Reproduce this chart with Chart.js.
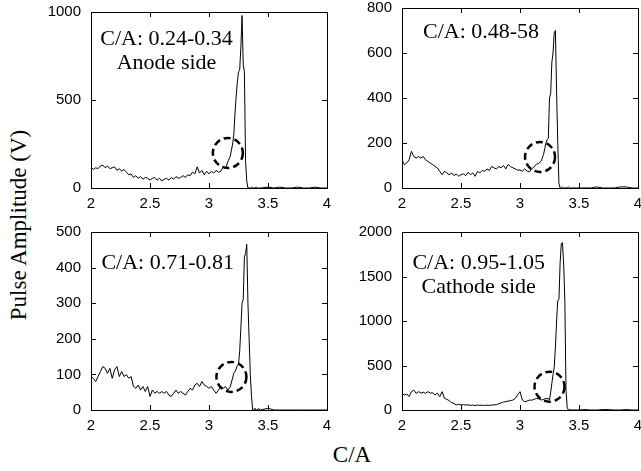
<!DOCTYPE html>
<html>
<head>
<meta charset="utf-8">
<script src="https://cdn.jsdelivr.net/npm/chart.js@4.4.0/dist/chart.umd.min.js"></script>
<style>
  body { margin: 0; width: 641px; height: 471px; overflow: hidden; background: #fff; position: relative; }
  canvas { position: absolute; }
  .title { position: absolute; font-family: 'Liberation Serif', serif; font-size: 23px; line-height: 24px; text-align: center; color: #000; white-space: nowrap; }
  #ytitle { width: 260px; left: -111px; top: 213px; transform: rotate(-90deg); }
  #xtitle { width: 100px; left: 302px; top: 443px; }
</style>
</head>
<body>
<canvas id="tl" width="299" height="211" style="left:36px;top:2px"></canvas>
<canvas id="tr" width="301" height="215" style="left:347px;top:-2px"></canvas>
<canvas id="bl" width="299" height="213" style="left:36px;top:222px"></canvas>
<canvas id="br" width="301" height="213" style="left:347px;top:222px"></canvas>
<div class="title" id="ytitle">Pulse Amplitude (V)</div>
<div class="title" id="xtitle">C/A</div>
<script>
// C/A positions (shared by all four panels)
const xs = [
  2.00, 2.02, 2.04, 2.06, 2.08, 2.10, 2.12, 2.14, 2.16, 2.18,
  2.20, 2.22, 2.24, 2.26, 2.28, 2.30, 2.32, 2.34, 2.36, 2.38,
  2.40, 2.42, 2.44, 2.46, 2.48, 2.50, 2.52, 2.54, 2.56, 2.58,
  2.60, 2.62, 2.64, 2.66, 2.68, 2.70, 2.72, 2.74, 2.76, 2.78,
  2.80, 2.82, 2.84, 2.86, 2.88, 2.90, 2.92, 2.94, 2.96, 2.98,
  3.00, 3.02, 3.04, 3.06, 3.08, 3.10, 3.12, 3.14, 3.16, 3.18,
  3.20, 3.21, 3.22, 3.23, 3.24, 3.25, 3.26, 3.27, 3.28, 3.29, 3.30, 3.31, 3.32, 3.33,
  3.34, 3.35, 3.36, 3.37, 3.38, 3.39, 3.40, 3.41, 3.42, 3.43, 3.44,
  3.50, 3.55, 3.60, 3.65, 3.70, 3.75, 3.80, 3.85, 3.90, 3.95, 4.00
];

// pulse amplitude (V), C/A 0.24-0.34 (anode side)
const anodeAmp = [
  120, 105, 115, 110, 125, 130, 115, 125, 110, 115,
  120, 100, 110, 95, 105, 90, 75, 80, 60, 70,
  55, 65, 50, 60, 55, 45, 55, 60, 45, 55,
  40, 50, 55, 45, 60, 50, 65, 55, 60, 70,
  60, 75, 70, 90, 80, 120, 85, 100, 75, 95,
  80, 95, 85, 100, 90, 95, 120, 110, 150, 180,
  250, 300, 420, 520, 600, 660, 670, 800, 980, 700, 660, 150, 40, 0,
  0, 0, 5, 0, 0, 0, 5, 0, 0, 0, 0,
  5, 0, 5, 0, 0, 5, 0, 0, 5, 0, 0
];

// C/A 0.48-0.58
const midAAmp = [
  125, 104, 111, 125, 163, 140, 133, 140, 133, 140,
  125, 118, 111, 104, 96, 89, 74, 59, 74, 67,
  59, 67, 55, 63, 52, 59, 63, 55, 70, 59,
  67, 52, 74, 67, 78, 74, 85, 78, 96, 89,
  85, 95, 90, 100, 85, 105, 95, 90, 85, 80,
  80, 75, 85, 75, 72, 85, 95, 105, 110, 120,
  150, 175, 200, 215, 220, 400, 420, 560, 600, 690, 700, 430, 200, 20,
  0, 0, 5, 0, 0, 0, 0, 5, 0, 0, 0,
  0, 0, 0, 5, 0, 0, 0, 5, 5, 0, 0
];

// C/A 0.71-0.81
const midBAmp = [
  94, 89, 80, 94, 108, 122, 117, 103, 117, 89,
  113, 122, 94, 108, 94, 99, 89, 94, 66, 61,
  70, 56, 66, 52, 66, 38, 56, 47, 52, 47,
  52, 47, 52, 42, 38, 47, 56, 47, 52, 47,
  42, 52, 61, 56, 70, 75, 66, 80, 70, 66,
  61, 66, 56, 47, 56, 66, 61, 66, 56, 65,
  90, 103, 108, 115, 125, 128, 165, 230, 300, 310, 430, 440, 465, 300,
  200, 100, 40, 0, 0, 5, 0, 0, 5, 0, 0,
  5, 0, 0, 0, 0, 0, 0, 0, 0, 0, 0
];

// C/A 0.95-1.05 (cathode side)
const cathodeAmp = [
  187, 168, 180, 150, 206, 224, 187, 206, 190, 200,
  187, 206, 190, 195, 168, 190, 150, 206, 131, 120,
  105, 82, 75, 56, 65, 56, 60, 55, 58, 52,
  55, 50, 56, 52, 55, 50, 54, 52, 56, 58,
  60, 70, 80, 90, 95, 100, 105, 112, 130, 170,
  206, 112, 94, 100, 112, 110, 120, 131, 125, 112,
  120, 125, 130, 125, 131, 112, 200, 300, 400, 480, 700, 1000, 1230, 1240,
  1650, 1870, 1880, 1640, 1230, 220, 30, 0, 0, 5, 0,
  0, 5, 0, 0, 5, 5, 0, 0, 5, 0, 0
];

const xTicks = [2, 2.5, 3, 3.5, 4];

// inward tick marks, dashed ring and in-plot notes
const decor = {
  id: 'decor',
  afterDraw(chart) {
    const opts = chart.options.plugins.decor;
    const ctx = chart.ctx;
    const a = chart.chartArea;
    const x = chart.scales.x, y = chart.scales.y;
    ctx.save();
    ctx.fillStyle = '#000';
    xTicks.forEach(v => {
      const px = Math.round(x.getPixelForValue(v));
      ctx.fillRect(px, a.bottom - 5, 1, 5);
      ctx.fillRect(px, a.top, 1, 5);
    });
    y.ticks.forEach(t => {
      const py = Math.round(y.getPixelForValue(t.value));
      ctx.fillRect(a.left, py, 5, 1);
      ctx.fillRect(a.right - 5, py, 5, 1);
    });

    // dashed ring
    const r = opts.ring;
    ctx.strokeStyle = '#000';
    ctx.lineWidth = 2.5;
    ctx.setLineDash([7, 4]);
    ctx.beginPath();
    ctx.arc(x.getPixelForValue(r.x), y.getPixelForValue(r.y), 15, 0, Math.PI * 2);
    ctx.stroke();
    ctx.setLineDash([]);

    // notes
    ctx.font = '22px "Liberation Serif"';
    ctx.textAlign = 'center';
    ctx.textBaseline = 'alphabetic';
    const nx = x.getPixelForValue(opts.note.x);
    const ny = y.getPixelForValue(opts.note.y);
    opts.note.lines.forEach((s, i) => ctx.fillText(s, nx, ny + i * 24));
    ctx.restore();
  }
};

const tickFont = { family: 'Liberation Sans', size: 15 };
const noPad = s => { s.paddingLeft = 0; s.paddingRight = 0; s.paddingTop = 0; s.paddingBottom = 0; };

function panel(id, amp, yMax, yStep, padRight, note, ring) {
  new Chart(document.getElementById(id), {
    type: 'line',
    data: {
      datasets: [{
        data: xs.map((v, i) => ({ x: v, y: amp[i] })),
        borderColor: '#000',
        borderWidth: 1,
        pointRadius: 0,
        tension: 0,
        fill: false
      }]
    },
    options: {
      responsive: false,
      animation: false,
      events: [],
      layout: { padding: { top: 10, right: padRight, left: 0, bottom: 0 } },
      plugins: {
        legend: { display: false },
        tooltip: { enabled: false },
        decor: { note: note, ring: ring }
      },
      scales: {
        x: {
          type: 'linear', min: 2, max: 4,
          grid: { display: false, drawTicks: false },
          border: { display: true, color: '#000', width: 1 },
          afterBuildTicks: s => { s.ticks = xTicks.map(v => ({ value: v })); },
          ticks: { padding: 7, color: '#000', maxRotation: 0, font: tickFont, callback: v => String(v) },
          afterFit: s => { noPad(s); s.height = 25; }
        },
        x2: {
          type: 'linear', position: 'top', min: 2, max: 4,
          grid: { display: false, drawTicks: false },
          border: { display: true, color: '#000', width: 1 },
          ticks: { display: false },
          afterFit: s => { noPad(s); s.height = 0; }
        },
        y: {
          min: 0, max: yMax,
          grid: { display: false, drawTicks: false },
          border: { display: true, color: '#000', width: 1 },
          ticks: { stepSize: yStep, padding: 10, color: '#000', font: tickFont, callback: v => String(v) },
          afterFit: s => { noPad(s); s.width = 55; }
        },
        y2: {
          position: 'right', min: 0, max: yMax,
          grid: { display: false, drawTicks: false },
          border: { display: true, color: '#000', width: 1 },
          ticks: { display: false },
          afterFit: s => { noPad(s); s.width = 0; }
        }
      }
    },
    plugins: [decor]
  });
}

panel('tl', anodeAmp, 1000, 500, 8, { x: 2.64, y: 812, lines: ['C/A: 0.24-0.34', 'Anode side'] }, { x: 3.16, y: 199 });
panel('tr', midAAmp, 800, 200, 10, { x: 2.67, y: 667, lines: ['C/A: 0.48-58'] }, { x: 3.17, y: 138 });
panel('bl', midBAmp, 500, 100, 8, { x: 2.65, y: 396, lines: ['C/A: 0.71-0.81'] }, { x: 3.19, y: 93 });
panel('br', cathodeAmp, 2000, 500, 10, { x: 2.65, y: 1584, lines: ['C/A: 0.95-1.05', 'Cathode side'] }, { x: 3.25, y: 262 });
</script>
</body>
</html>
